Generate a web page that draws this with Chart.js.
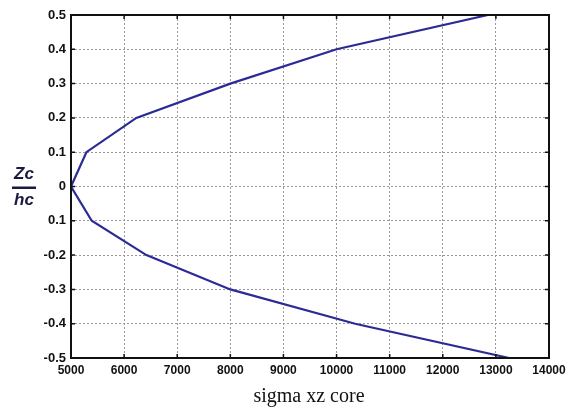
<!DOCTYPE html>
<html>
<head>
<meta charset="utf-8">
<script src="https://cdn.jsdelivr.net/npm/chart.js@4.4.1/dist/chart.umd.min.js"></script>
<style>
  html, body { margin: 0; padding: 0; background: #fff; }
  #wrap { width: 568px; height: 412px; position: relative; }
</style>
</head>
<body>
<div id="wrap"><canvas id="chart"></canvas></div>
<script>
// === DATA ===
const zRatio = [-0.5, -0.4, -0.3, -0.2, -0.1, 0, 0.1, 0.2, 0.3, 0.4, 0.5];
const sigmaXz = [13250, 10350, 8000, 6420, 5390, 5000, 5290, 6230, 8000, 10000, 12850];
const xTicks = [5000, 6000, 7000, 8000, 9000, 10000, 11000, 12000, 13000, 14000];
const yTicks = [-0.5, -0.4, -0.3, -0.2, -0.1, 0, 0.1, 0.2, 0.3, 0.4, 0.5];
const yTickLabels = ["-0.5", "-0.4", "-0.3", "-0.2", "0.1", "0", "0.1", "0.2", "0.3", "0.4", "0.5"];

const points = sigmaXz.map((x, i) => ({ x: x, y: zRatio[i] }));

// === FRAME, INWARD TICKS AND AXIS TITLES ===
const framePlugin = {
    id: "frame",
    afterDraw(chart) {
        const { ctx, chartArea: a, scales } = chart;
        ctx.save();
        ctx.strokeStyle = "#111";
        ctx.lineWidth = 2;
        ctx.strokeRect(a.left, a.top, a.right - a.left, a.bottom - a.top);

        // small tick marks pointing into the plot
        ctx.lineWidth = 1.5;
        xTicks.forEach(v => {
            const px = scales.x.getPixelForValue(v);
            ctx.beginPath();
            ctx.moveTo(px, a.bottom); ctx.lineTo(px, a.bottom - 4);
            ctx.moveTo(px, a.top); ctx.lineTo(px, a.top + 4);
            ctx.stroke();
        });
        yTicks.forEach(v => {
            const py = scales.y.getPixelForValue(v);
            ctx.beginPath();
            ctx.moveTo(a.left, py); ctx.lineTo(a.left + 4, py);
            ctx.moveTo(a.right, py); ctx.lineTo(a.right - 4, py);
            ctx.stroke();
        });

        // x title
        ctx.fillStyle = "#111";
        ctx.font = "20px 'Liberation Serif', 'DejaVu Serif', serif";
        ctx.textAlign = "center";
        ctx.textBaseline = "middle";
        ctx.fillText("sigma xz core", (a.left + a.right) / 2 - 1, 397);

        // y title as a fraction Zc / hc
        const cx = 24, cy = scales.y.getPixelForValue(0);
        ctx.font = "italic bold 17px 'Liberation Sans', Arial, sans-serif";
        ctx.fillStyle = "#1a1a40";
        ctx.fillText("Zc", cx, cy - 12);
        ctx.fillText("hc", cx, cy + 14);
        ctx.fillRect(cx - 12, cy, 24, 2.5);
        ctx.restore();
    }
};

// === CHART ===
const ctx = document.getElementById("chart").getContext("2d");
new Chart(ctx, {
    type: "line",
    data: {
        datasets: [{
            data: points,
            borderColor: "#2b2b96",
            borderWidth: 2.2,
            pointRadius: 0,
            tension: 0,
            fill: false
        }]
    },
    options: {
        responsive: true,
        maintainAspectRatio: false,
        animation: false,
        layout: { padding: { top: 15, right: 19, left: 0, bottom: 0 } },
        plugins: {
            legend: { display: false },
            tooltip: { enabled: false }
        },
        scales: {
            x: {
                type: "linear",
                min: 5000,
                max: 14000,
                afterBuildTicks: s => { s.ticks = xTicks.map(v => ({ value: v })); },
                afterFit: s => { s.height = 54; s.paddingLeft = 0; s.paddingRight = 0; },
                ticks: {
                    color: "#111",
                    padding: 5,
                    maxRotation: 0,
                    font: { family: "'Liberation Sans', Arial, sans-serif", size: 12, weight: "bold" },
                    callback: v => String(v)
                },
                grid: { color: "#999", lineWidth: 1, drawTicks: false },
                border: { display: false, dash: [2, 2] }
            },
            y: {
                type: "linear",
                min: -0.5,
                max: 0.5,
                afterBuildTicks: s => { s.ticks = yTicks.map(v => ({ value: v })); },
                afterFit: s => { s.width = 71; },
                ticks: {
                    color: "#111",
                    padding: 5,
                    font: { family: "'Liberation Sans', Arial, sans-serif", size: 13, weight: "bold" },
                    callback: (v, i) => yTickLabels[i]
                },
                grid: { color: "#999", lineWidth: 1, drawTicks: false },
                border: { display: false, dash: [2, 2] }
            }
        }
    },
    plugins: [framePlugin]
});
</script>
</body>
</html>
